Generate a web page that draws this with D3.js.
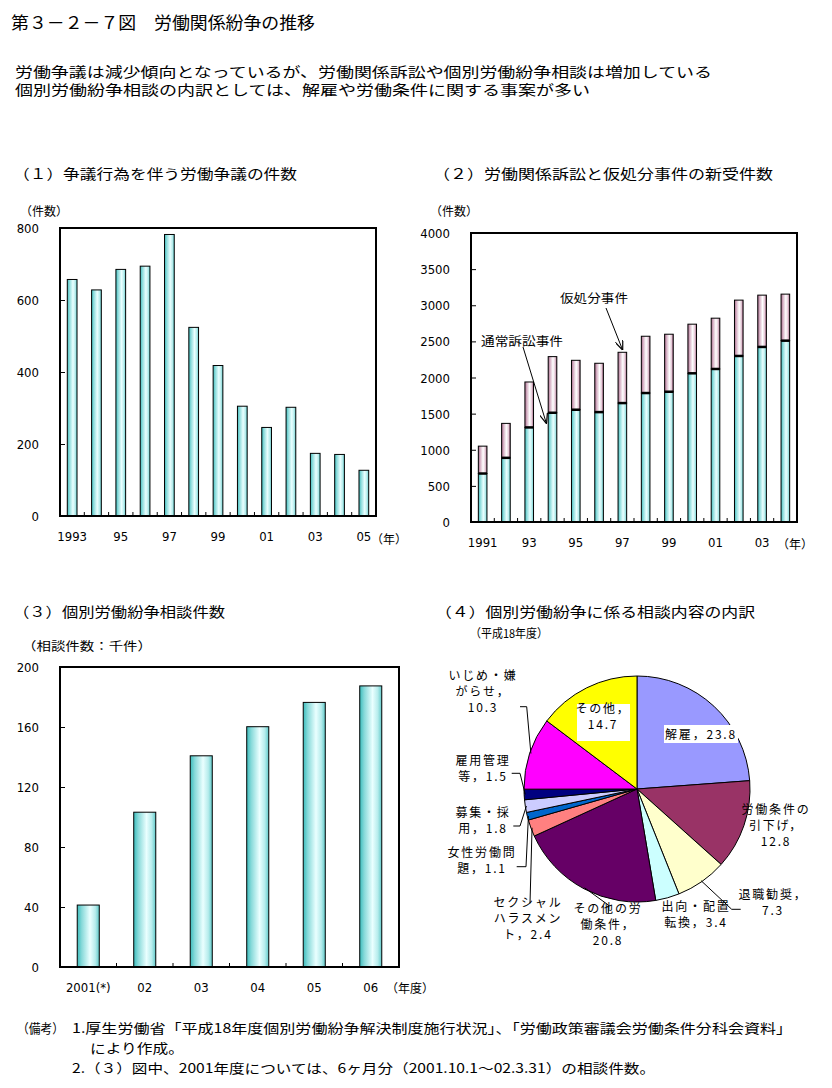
<!DOCTYPE html>
<html><head><meta charset="utf-8">
<script src="https://cdn.jsdelivr.net/npm/d3@7"></script>
<style>
body{margin:0;background:#fff;}
svg text{font-family:"Noto Sans CJK JP","Noto Sans",sans-serif;fill:#000;}
svg text.num{font-family:"DejaVu Sans Condensed","Liberation Sans Narrow","DejaVu Sans",sans-serif;}
</style></head><body>
<svg id="c" width="832" height="1088"></svg>
<script>
// ---------- data ----------
const c1Years = ["1993","1994","1995","1996","1997","1998","1999","2000","2001","2002","2003","2004","2005"];
const c1Labels = ["1993","","95","","97","","99","","01","","03","","05"];
const c1Values = [657,628,685,694,782,524,418,305,246,302,174,171,127];
const c1Ticks = [0,200,400,600,800];

const c2Years = ["1991","1992","1993","1994","1995","1996","1997","1998","1999","2000","2001","2002","2003","2004"];
const c2Labels = ["1991","","93","","95","","97","","99","","01","","03",""];
const c2Regular = [671,888,1309,1512,1554,1521,1646,1785,1803,2058,2118,2298,2423,2510];
const c2Provisional = [379,477,629,777,684,676,703,786,796,680,703,773,717,644];
const c2Ticks = [0,500,1000,1500,2000,2500,3000,3500,4000];

const c3Years = ["2001(*)","02","03","04","05","06"];
const c3Values = [41.3,103.2,140.8,160.2,176.4,187.4];
const c3Ticks = [0,40,80,120,160,200];

const pieNames = ["解雇","労働条件の引下げ","退職勧奨","出向・配置転換","その他の労働条件","セクシャルハラスメント","女性労働問題","募集・採用","雇用管理等","いじめ・嫌がらせ","その他"];
const pieValues = [23.8,12.8,7.3,3.4,20.8,2.4,1.1,1.8,1.5,10.3,14.7];
const pieColors = ["#9999ff","#993366","#ffffcc","#ccffff","#660066","#ff8080","#0066cc","#ccccff","#000080","#ff00ff","#ffff00"];
const pieLabelLines = [
  ["解雇，23.8"],
  ["労働条件の","引下げ，","12.8"],
  ["退職勧奨，","7.3"],
  ["出向・配置","転換，3.4"],
  ["その他の労","働条件，","20.8"],
  ["セクシャル","ハラスメン","ト，2.4"],
  ["女性労働問","題，1.1"],
  ["募集・採","用，1.8"],
  ["雇用管理","等，1.5"],
  ["いじめ・嫌","がらせ，","10.3"],
  ["その他，","14.7"]
];

// ---------- layout ----------
const svg = d3.select("#c");
const defs = svg.append("defs");
function grad(id, stops){
  const g = defs.append("linearGradient").attr("id",id).attr("x1",0).attr("x2",1).attr("y1",0).attr("y2",0);
  stops.forEach(s=>g.append("stop").attr("offset",s[0]).attr("stop-color",s[1]));
}
grad("teal",[[0,"#3bbcbc"],[0.2,"#86d9d9"],[0.58,"#eaffff"],[0.82,"#b6ecec"],[1,"#5fc9c9"]]);
grad("pink",[[0,"#a86a8c"],[0.25,"#d9b6c8"],[0.55,"#ffffff"],[0.8,"#e6cbd8"],[1,"#9c5c7e"]]);
defs.append("marker").attr("id","arr").attr("viewBox","0 0 10 8").attr("refX",9).attr("refY",4)
  .attr("markerWidth",10).attr("markerHeight",8).attr("markerUnits","userSpaceOnUse").attr("orient","auto")
  .append("path").attr("d","M0,0 L10,4 L0,8").attr("fill","none").attr("stroke","#000").attr("stroke-width",1.2);

function txt(g,x,y,s,o={}){
  const t = g.append("text").attr("x",x).attr("y",y).text(s)
    .attr("font-size",o.size||13).attr("text-anchor",o.anchor||"start")
    .attr("dominant-baseline","central");
  if(o.len){t.attr("textLength",o.len).attr("lengthAdjust","spacingAndGlyphs");}
  if(o.cls) t.attr("class",o.cls);
  if(o.ls) t.attr("letter-spacing",o.ls);
  return t;
}

// header
txt(svg,11,21,"第３－２－７図　労働関係紛争の推移",{size:17,len:304});
txt(svg,15,70.5,"労働争議は減少傾向となっているが、労働関係訴訟や個別労働紛争相談は増加している",{size:14,len:697});
txt(svg,15,88.5,"個別労働紛争相談の内訳としては、解雇や労働条件に関する事案が多い",{size:14,len:575});

// generic bar chart frame
function barChart(o){
  const g = svg.append("g");
  const n = o.cats.length;
  const x = d3.scaleBand().domain(o.cats).range([o.x0,o.x1]).paddingInner(o.pi).paddingOuter(o.pi/2);
  const y = d3.scaleLinear().domain([0,o.max]).range([o.y1,o.y0]);
  const ya = g.append("g").attr("transform",`translate(${o.x0},0)`)
    .call(d3.axisLeft(y).tickValues(o.ticks).tickSize(-5).tickPadding(21).tickFormat(d3.format("d")));
  ya.select(".domain").remove();
  ya.selectAll("line").attr("stroke","#000");
  ya.selectAll("text").attr("class","num").attr("font-size",13).attr("dy","0.35em").attr("fill","#000");
  const xa = g.append("g").attr("transform",`translate(0,${o.y1})`)
    .call(d3.axisBottom(x).tickSize(0).tickPadding(16).tickFormat((d,i)=>o.labels[i]));
  xa.select(".domain").remove();
  xa.selectAll("text").attr("class","num").attr("font-size",13).attr("fill","#000");
  const step = x.step();
  g.append("g").selectAll("line").data(d3.range(1,n)).join("line")
    .attr("x1",i=>o.x0+i*step).attr("x2",i=>o.x0+i*step)
    .attr("y1",o.y1).attr("y2",o.y1-4).attr("stroke","#000").attr("stroke-width",1);
  return {g,x,y};
}
function frame(g,o){
  g.append("rect").attr("x",o.x0).attr("y",o.y0).attr("width",o.x1-o.x0).attr("height",o.y1-o.y0)
    .attr("fill","none").attr("stroke","#000").attr("stroke-width",2);
}

// ---- chart 1 ----
txt(svg,13,173,"（１）争議行為を伴う労働争議の件数",{size:14,len:284});
txt(svg,20,210,"（件数）",{size:12,len:48});
const o1 = {x0:60,x1:376,y0:228,y1:516,cats:c1Years,labels:c1Labels,max:800,ticks:c1Ticks,pi:0.6};
const ch1 = barChart(o1);
ch1.g.append("g").selectAll("rect").data(c1Values).join("rect")
  .attr("x",(d,i)=>ch1.x(c1Years[i])).attr("width",ch1.x.bandwidth())
  .attr("y",d=>ch1.y(d)).attr("height",d=>ch1.y(0)-ch1.y(d))
  .attr("fill","url(#teal)").attr("stroke","#000").attr("stroke-width",1);
frame(ch1.g,o1);
txt(svg,371,538,"（年）",{size:12});

// ---- chart 2 ----
txt(svg,433,173,"（２）労働関係訴訟と仮処分事件の新受件数",{size:14,len:340});
txt(svg,430,210,"（件数）",{size:12,len:48});
const o2 = {x0:471,x1:797,y0:233,y1:522,cats:c2Years,labels:c2Labels,max:4000,ticks:c2Ticks,pi:0.63};
const ch2 = barChart(o2);
const stack = d3.stack().keys(["r","p"])(c2Years.map((y,i)=>({year:y,r:c2Regular[i],p:c2Provisional[i]})));
ch2.g.append("g").selectAll("g").data(stack).join("g")
  .attr("fill",(d,i)=>i===0?"url(#teal)":"url(#pink)")
  .selectAll("rect").data(d=>d).join("rect")
  .attr("x",d=>ch2.x(d.data.year)).attr("width",ch2.x.bandwidth())
  .attr("y",d=>ch2.y(d[1])).attr("height",d=>ch2.y(d[0])-ch2.y(d[1]))
  .attr("stroke","#000").attr("stroke-width",1);
ch2.g.append("g").selectAll("line").data(c2Regular).join("line")
  .attr("x1",(d,i)=>ch2.x(c2Years[i])).attr("x2",(d,i)=>ch2.x(c2Years[i])+ch2.x.bandwidth())
  .attr("y1",d=>ch2.y(d)).attr("y2",d=>ch2.y(d)).attr("stroke","#000").attr("stroke-width",2.5);
frame(ch2.g,o2);
txt(svg,777,543,"（年）",{size:12});
txt(svg,560,297,"仮処分事件",{size:12,len:68});
ch2.g.append("line").attr("x1",606).attr("y1",308).attr("x2",ch2.x("1997")+ch2.x.bandwidth()/2)
  .attr("y2",ch2.y(c2Regular[6]+c2Provisional[6])-3).attr("stroke","#000").attr("marker-end","url(#arr)");
txt(svg,481,340,"通常訴訟事件",{size:12,len:82});
ch2.g.append("line").attr("x1",523).attr("y1",347).attr("x2",ch2.x("1994")-2)
  .attr("y2",ch2.y(c2Regular[3])+10).attr("stroke","#000").attr("marker-end","url(#arr)");

// ---- chart 3 ----
txt(svg,13,611,"（３）個別労働紛争相談件数",{size:14,len:212});
txt(svg,22,645,"（相談件数：千件）",{size:12,len:130});
const o3 = {x0:60,x1:399,y0:667,y1:967,cats:c3Years,labels:c3Years,max:200,ticks:c3Ticks,pi:0.61};
const ch3 = barChart(o3);
ch3.g.append("g").selectAll("rect").data(c3Values).join("rect")
  .attr("x",(d,i)=>ch3.x(c3Years[i])).attr("width",ch3.x.bandwidth())
  .attr("y",d=>ch3.y(d)).attr("height",d=>ch3.y(0)-ch3.y(d))
  .attr("fill","url(#teal)").attr("stroke","#000").attr("stroke-width",1);
frame(ch3.g,o3);
txt(svg,386,987,"（年度）",{size:12});

// ---- chart 4 (pie) ----
txt(svg,435,611,"（４）個別労働紛争に係る相談内容の内訳",{size:14,len:320});
txt(svg,470,632,"（平成18年度）",{size:12,len:78});
const cx=637, cy=789, R=113;
const pg = svg.append("g").attr("transform",`translate(${cx},${cy})`);
const arcs = d3.pie().sort(null).value(d=>d)(pieValues);
const arc = d3.arc().innerRadius(0).outerRadius(R);
pg.selectAll("path").data(arcs).join("path").attr("d",arc)
  .attr("fill",(d,i)=>pieColors[i]).attr("stroke","#000").attr("stroke-width",1);

const labelPos = [
  {dx:64,dy:-56,box:[27,-64,74,18]},
  {dx:139,dy:35},
  {dx:136,dy:112},
  {dx:59,dy:124},
  {dx:-29,dy:134},
  {dx:-109,dy:128},
  {dx:-155,dy:70},
  {dx:-154,dy:30},
  {dx:-154,dy:-22},
  {dx:-154,dy:-99},
  {dx:-34,dy:-74,box:[-60,-85,53,37]}
];
const leaders = [
  null,null,
  [[103.7,120.3],[94.7,120.3]],
  null,
  [[-28.7,124.3],[-28.7,116]],
  [[-107,114.3]],
  [[-120.3,77.7],[-111,77.7]],
  [[-123.7,37],[-117,37]],
  [[-125.3,-15.7],[-117,-15.7]],
  [[-117,-82.3],[-110.3,-82.3]],
  null
];
const lineH = 16;
arcs.forEach((a,i)=>{
  const lp = labelPos[i];
  if(leaders[i]){
    const mid = (a.startAngle+a.endAngle)/2;
    const end = [Math.sin(mid)*R*0.99, -Math.cos(mid)*R*0.99];
    const pts = leaders[i].concat([end]);
    pg.append("path").attr("d",d3.line()(pts)).attr("fill","none").attr("stroke","#000").attr("stroke-width",1);
  }
  if(lp.box){
    pg.append("rect").attr("x",lp.box[0]).attr("y",lp.box[1]).attr("width",lp.box[2]).attr("height",lp.box[3]).attr("fill","#fff");
  }
  const lines = pieLabelLines[i];
  lines.forEach((s,j)=>{
    const y = lp.dy + (j-(lines.length-1)/2)*lineH;
    txt(pg,lp.dx,y,s,{size:12,anchor:"middle",ls:"1.8px"});
  });
});

// ---- footer ----
txt(svg,17,1027,"（備考）",{size:13,len:47});
txt(svg,72,1027,"1.厚生労働省「平成18年度個別労働紛争解決制度施行状況」、「労働政策審議会労働条件分科会資料」",{size:13,len:720});
txt(svg,90,1047.5,"により作成。",{size:13,len:94});
txt(svg,72,1067,"2.（３）図中、2001年度については、6ヶ月分（2001.10.1～02.3.31）の相談件数。",{size:13,len:583});
</script>
</body></html>
